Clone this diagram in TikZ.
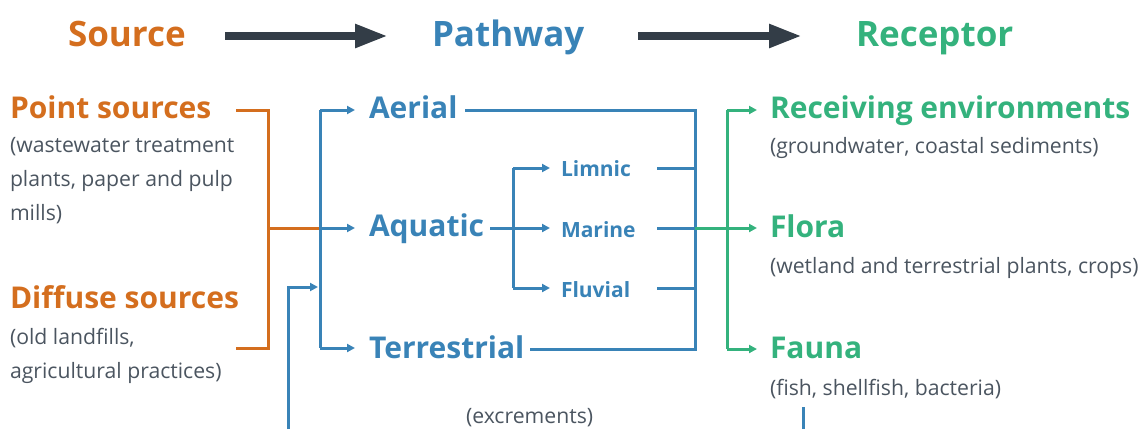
\documentclass[tikz,border=0pt]{standalone}
\usepackage{fontspec}
\setmainfont{Open Sans}
\usetikzlibrary{arrows.meta}
\definecolor{srcorange}{HTML}{D46E1E}
\definecolor{pathblue}{HTML}{3983B7}
\definecolor{recgreen}{HTML}{34B27D}
\definecolor{headdark}{HTML}{333D47}
\definecolor{notegray}{HTML}{4B5560}
\tikzset{
  every node/.style={inner sep=0pt, outer sep=0pt, anchor=base west},
  header/.style={font=\fontsize{35}{40}\selectfont\bfseries},
  level/.style={font=\fontsize{30}{34}\selectfont\bfseries},
  sublevel/.style={font=\fontsize{21}{24}\selectfont\bfseries, text=pathblue},
  note/.style={font=\fontsize{21.2}{33.7}\selectfont, text=notegray, align=left},
  bigarrow/.style={draw=headdark, line width=8pt, -{Triangle[length=33pt,width=22pt]}},
  link/.style={line width=3pt},
  tip/.style={-{Triangle[length=8pt,width=8pt]}},
}
\begin{document}
\begin{tikzpicture}[x=1pt,y=-1pt]
\useasboundingbox (0,0) rectangle (1145,429);

% column headers
\node[header, text=srcorange] (source) at (68,46) {Source};
\node[header, text=pathblue] (pathway) at (432,46) {Pathway};
\node[header, text=recgreen] (receptor) at (856,46) {Receptor};
\coordinate (h1a) at (225,36); \coordinate (h1b) at (388,36);
\coordinate (h2a) at (638,36); \coordinate (h2b) at (802,36);
\draw[bigarrow] (h1a) -- (h1b);
\draw[bigarrow] (h2a) -- (h2b);

% sources (multi-line notes sit on the baseline of their last line)
\node[level, text=srcorange] (point) at (10,118) {Point sources};
\node[note] (pointnote) at (10,220) {(wastewater treatment\\plants, paper and pulp\\mills)};
\node[level, text=srcorange] (diffuse) at (10,308) {Diffuse sources};
\node[note] (diffnote) at (10,378) {(old landfills,\\agricultural practices)};

% pathways
\node[level, text=pathblue] (aerial) at (369,118) {Aerial};
\node[level, text=pathblue] (aquatic) at (369,236) {Aquatic};
\node[level, text=pathblue] (terr) at (369,358) {Terrestrial};
\node[sublevel] (limnic) at (561,176) {Limnic};
\node[sublevel] (marine) at (561,237) {Marine};
\node[sublevel] (fluvial) at (561,297) {Fluvial};
\node[note] (excr) at (466,423) {(excrements)};

% receptors
\node[level, text=recgreen] (recenv) at (770,118) {Receiving environments};
\node[note] (recnote) at (770,153) {(groundwater, coastal sediments)};
\node[level, text=recgreen] (flora) at (770,237) {Flora};
\node[note] (floranote) at (770,273) {(wetland and terrestrial plants, crops)};
\node[level, text=recgreen] (fauna) at (770,358) {Fauna};
\node[note] (faunanote) at (770,395) {(fish, shellfish, bacteria)};

% bracket joints
\coordinate (os) at (268,110);
\coordinate (om) at (268,228);
\coordinate (oe) at (268,348);
\coordinate (bs) at (320,110);
\coordinate (bm) at (320,228);
\coordinate (be) at (320,348);
\coordinate (qs) at (513,168);
\coordinate (qm) at (513,228);
\coordinate (qe) at (513,288);
\coordinate (rs) at (695,110);
\coordinate (re) at (695,349);
\coordinate (gm) at (695,228);
\coordinate (gs) at (727,110);
\coordinate (ge) at (727,349);
\coordinate (exb) at (288,429);
\coordinate (fst) at (803,407);
\coordinate (fsb) at (803,429);

% source bracket
\draw[link, srcorange] (236,110) -- (os) -- (oe) -- (236,348);
\draw[link, srcorange] (om) -- (bm);

% pathway bracket
\draw[link, pathblue, tip] (bs) -- (355,110);
\draw[link, pathblue, tip] (bm) -- (355,228);
\draw[link, pathblue, tip] (be) -- (355,348);
\draw[link, pathblue] (bs) -- (be);
\draw[link, pathblue, tip] (exb) |- (318,287);

% aquatic sub-bracket
\draw[link, pathblue] (490,228) -- (qm);
\draw[link, pathblue] (qs) -- (qe);
\draw[link, pathblue, tip] (qs) -- (550,168);
\draw[link, pathblue, tip] (qm) -- (550,228);
\draw[link, pathblue, tip] (qe) -- (550,288);

% collector on the right of the pathways
\draw[link, pathblue] (465,110) -- (rs) -- (re) -- (530,349);
\draw[link, pathblue] (657,168) -- (695,168);
\draw[link, pathblue] (657,228) -- (gm);
\draw[link, pathblue] (657,288) -- (695,288);

% receptor bracket
\draw[link, recgreen] (gs) -- (ge);
\draw[link, recgreen] (gm) -- (gs |- gm);
\draw[link, recgreen, tip] (gs) -- (757,110);
\draw[link, recgreen, tip] (gs |- gm) -- (757,228);
\draw[link, recgreen, tip] (ge) -- (757,349);

% stub below fauna
\draw[link, pathblue] (fst) -- (fsb);
\end{tikzpicture}
\end{document}
